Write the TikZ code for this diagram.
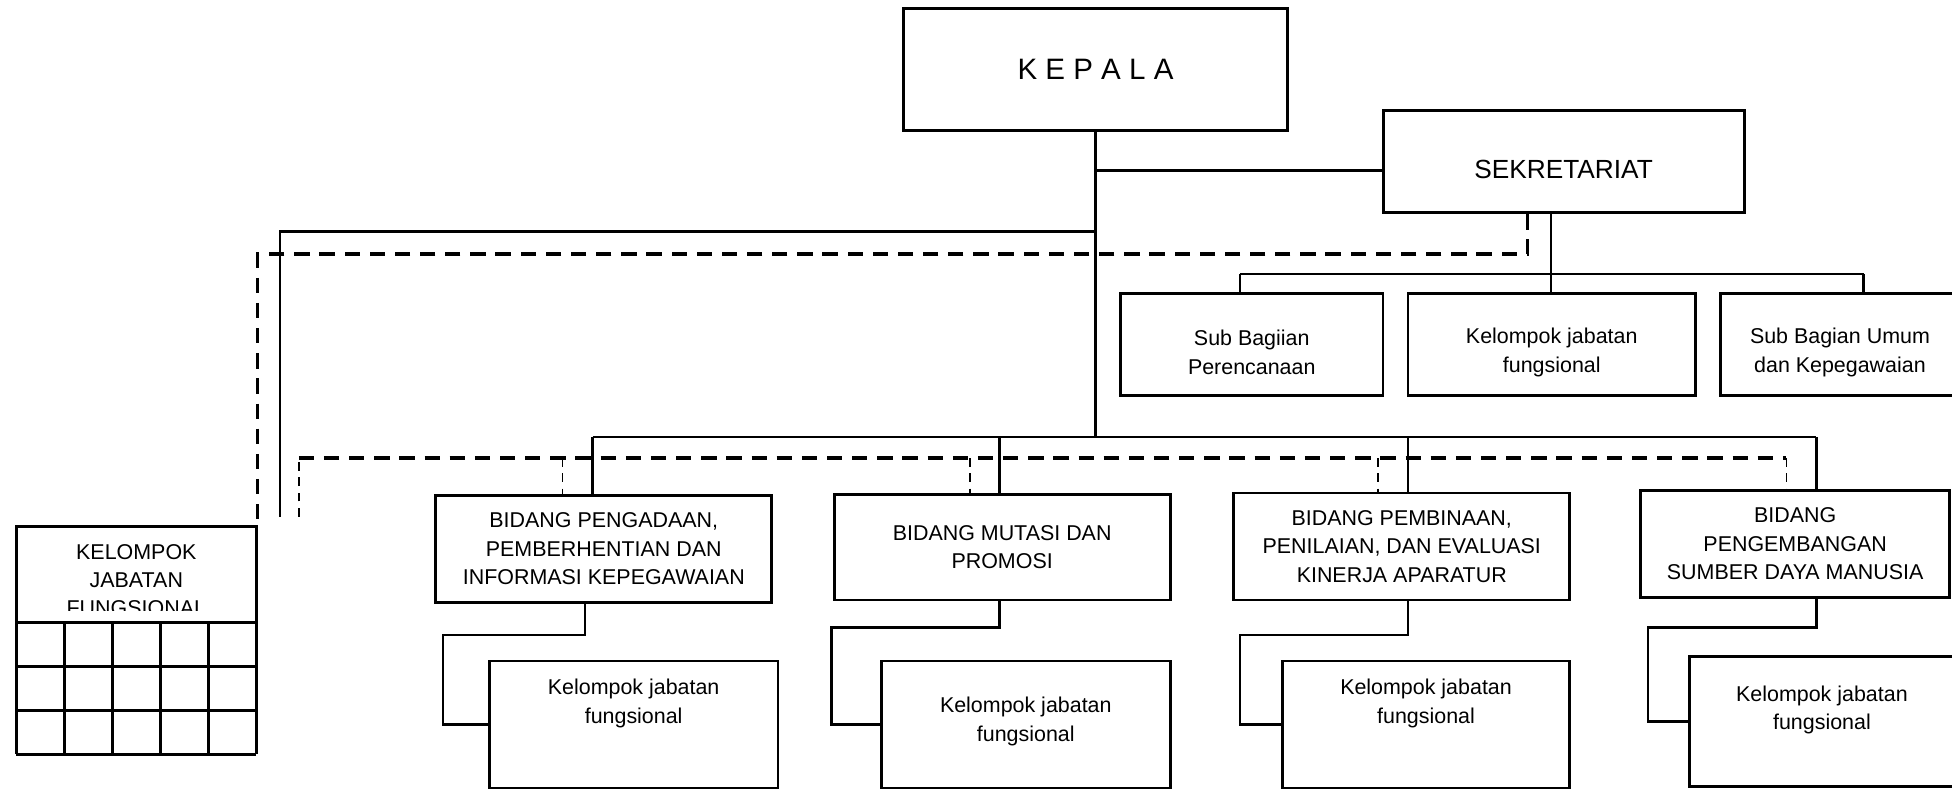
\documentclass[tikz,border=0pt]{standalone}
\usepackage{fontspec}
\setmainfont{Liberation Sans}

\tikzset{
	box/.style={draw, line width=1.3pt, align=center, inner sep=0pt, font=\fontsize{9.8}{13}\selectfont},
	txt/.style={align=center, inner sep=0pt, font=\fontsize{9.8}{13}\selectfont},
	conn/.style={line width=1.1pt},
	dashbig/.style={line width=1.5pt, dash pattern=on 7pt off 4.5pt},
	dashsmall/.style={line width=0.7pt, dash pattern=on 4pt off 3pt},
}

\begin{document}
\begin{tikzpicture}[x=0.02cm, y=-0.02cm]
	\useasboundingbox (0,0) rectangle (1568,635);

	% pimpinan
	\node[box, minimum width=6.16cm, minimum height=1.96cm, font=\fontsize{13.5}{16}\selectfont] (kepala) at (880,56) {K E P A L A};
	\node[box, minimum width=5.8cm, minimum height=1.64cm] (sekre) at (1256,130) {};
	\node[txt, font=\fontsize{12}{14}\selectfont] (sekret) at (1256,136) {SEKRETARIAT};

	% sub bagian sekretariat
	\node[box, minimum width=4.22cm, minimum height=1.64cm] (subren) at (1005.5,277) {};
	\node[txt] (subrent) at (1005.5,283) {Sub Bagiian\\Perencanaan};
	\node[box, minimum width=4.62cm, minimum height=1.64cm] (subjf) at (1246.5,277) {};
	\node[txt] (subjft) at (1246.5,283) {Kelompok jabatan\\fungsional};
	\node[box, minimum width=3.84cm, minimum height=1.64cm] (subum) at (1478,277) {};
	\node[txt] (subumt) at (1478,283) {Sub Bagian Umum\\dan Kepegawaian};

	% bidang
	\node[box, minimum width=5.4cm, minimum height=1.72cm] (bid1) at (485,441) {BIDANG PENGADAAN,\\PEMBERHENTIAN DAN\\INFORMASI KEPEGAWAIAN};
	\node[box, minimum width=5.4cm, minimum height=1.7cm] (bid2) at (805,439.5) {BIDANG MUTASI DAN\\PROMOSI};
	\node[box, minimum width=5.4cm, minimum height=1.72cm] (bid3) at (1126,439) {BIDANG PEMBINAAN,\\PENILAIAN, DAN EVALUASI\\KINERJA APARATUR};
	\node[box, minimum width=4.96cm, minimum height=1.72cm] (bid4) at (1442,437) {BIDANG\\PENGEMBANGAN\\SUMBER DAYA MANUSIA};

	% kelompok jabatan fungsional tiap bidang
	\node[box, minimum width=4.64cm, minimum height=2.04cm] (kjf1) at (509,582) {};
	\node[txt] (kjf1t) at (509,565) {Kelompok jabatan\\fungsional};
	\node[box, minimum width=4.64cm, minimum height=2.04cm] (kjf2) at (824,582) {};
	\node[txt] (kjf2t) at (824,579.5) {Kelompok jabatan\\fungsional};
	\node[box, minimum width=4.62cm, minimum height=2.04cm] (kjf3) at (1145.5,582) {};
	\node[txt] (kjf3t) at (1145.5,565) {Kelompok jabatan\\fungsional};
	\node[box, minimum width=4.26cm, minimum height=2.1cm] (kjf4) at (1463.5,579.5) {};
	\node[txt] (kjf4t) at (1463.5,570.5) {Kelompok jabatan\\fungsional};

	% kelompok jabatan fungsional (kiri) + tabel
	\node[box, minimum width=3.86cm, minimum height=1.54cm] (kjfl) at (109.5,461.5) {};
	\begin{scope}
		\clip (13,423) rectangle (206,490);
		\node[txt] (kjflt) at (109.5,466) {KELOMPOK\\JABATAN\\FUNGSIONAL};
	\end{scope}
	\foreach \i in {0,...,5}
		\draw[line width=1.3pt] (13+38.6*\i,500) -- (13+38.6*\i,606);
	\foreach \j in {0,...,3}
		\draw[line width=1.3pt] (13,500+35.333*\j) -- (206,500+35.333*\j);

	% garis komando
	\coordinate (kbus) at (880,351);
	\draw[conn] (kepala.south) -- (kbus);
	\coordinate (ks) at (880,137);
	\draw[conn] (ks) -- (ks -| sekre.west);
	\coordinate (ku) at (880,186);
	\coordinate (kl) at (225,415);
	\draw[conn] (ku) -| (kl);

	\coordinate (bb1) at (476,351);
	\coordinate (bb2) at (803,351);
	\coordinate (bb3) at (1131,351);
	\coordinate (bb4) at (1459,351);
	\draw[conn] (bb1) -- (bb4);
	\foreach \i in {1,...,4}
		\draw[conn] (bb\i) -- (bb\i |- bid\i.north);

	\coordinate (sb) at (1246,220);
	\coordinate (sb1) at (996,220);
	\coordinate (sb3) at (1497,220);
	\draw[conn] (sb |- sekre.south) -- (sb);
	\draw[conn] (sb1) -- (sb3);
	\draw[conn] (sb1) -- (sb1 |- subren.north);
	\draw[conn] (sb) -- (sb |- subjf.north);
	\draw[conn] (sb3) -- (sb3 |- subum.north);

	\foreach \i/\x/\y/\l in {1/470/510/356, 2/803/504/668, 3/1131/510/996, 4/1459/504/1324}{
		\coordinate (t\i) at (\x,\y);
		\coordinate (l\i) at (\l,\y);
		\draw[conn] (t\i |- bid\i.south) -- (t\i) -- (l\i) |- (kjf\i.west);
	}

	% garis koordinasi
	\coordinate (dk) at (1227,204);
	\draw[dashbig] (dk |- sekre.south) -- (dk) -| (kjfl.north east);

	\coordinate (dl) at (240,368);
	\coordinate (dle) at (240,415);
	\coordinate (dd1) at (452,368);
	\coordinate (dd2) at (779,368);
	\coordinate (dd3) at (1107,368);
	\coordinate (dd4) at (1435,368);
	\draw[dashsmall] (dle) -- (dl);
	\draw[dashbig] (dl) -- (dd4);
	\foreach \i in {1,...,4}
		\draw[dashsmall] (dd\i) -- (dd\i |- bid\i.north);
\end{tikzpicture}
\end{document}
